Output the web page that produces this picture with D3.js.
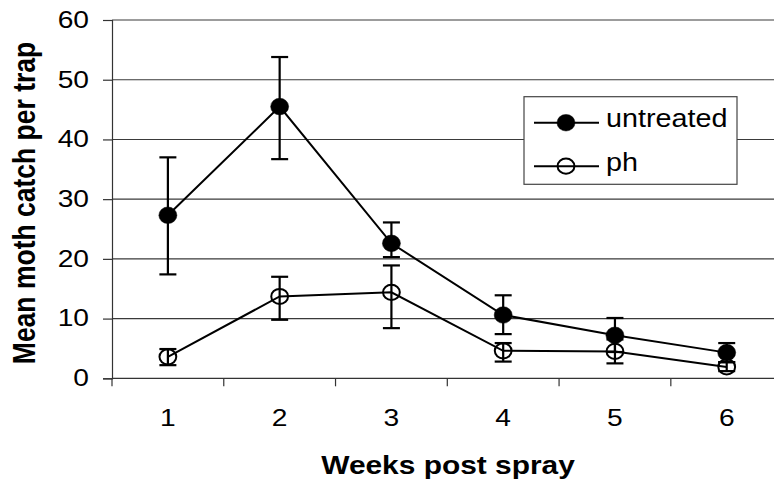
<!DOCTYPE html>
<html>
<head>
<meta charset="utf-8">
<script src="https://cdn.jsdelivr.net/npm/d3@7"></script>
<style>
  body { margin: 0; background: #fff; }
  svg { display: block; font-family: Arial, "Liberation Sans", sans-serif; }
</style>
</head>
<body>
<div id="chart"></div>
<script>
const width = 774;
const height = 483;

// the picture is a bit stretched sideways, so text gets the same squeeze
const sx = 1.15;

// Data
const weeks = [1, 2, 3, 4, 5, 6];
const untreated = [27.3, 45.5, 22.6, 10.6, 7.2, 4.3];
const untreatedLow = [17.4, 36.7, 20.3, 7.4, 4.4, 2.7];
const untreatedHigh = [37.0, 53.8, 26.1, 13.9, 10.1, 5.9];
const ph = [3.6, 13.7, 14.4, 4.6, 4.5, 1.9];
const phLow = [2.2, 9.8, 8.4, 2.8, 2.5, 1.2];
const phHigh = [4.9, 17.0, 18.9, 5.9, 6.5, 2.7];
const yTicks = [0, 10, 20, 30, 40, 50, 60];
const seriesNames = ['untreated', 'ph'];

const series = [
    { name: seriesNames[0], filled: true, values: untreated, low: untreatedLow, high: untreatedHigh },
    { name: seriesNames[1], filled: false, values: ph, low: phLow, high: phHigh }
];

// Scales
const x = d3.scaleBand()
    .domain(weeks)
    .range([112, 782.6])
    .padding(0);

const y = d3.scaleLinear()
    .domain([0, 60])
    .range([378.3, 20]);

const svg = d3.select('#chart')
    .append('svg')
    .attr('width', width)
    .attr('height', height);

// Gridlines
svg.append('g')
    .selectAll('line')
    .data(yTicks.filter(d => d > 0))
    .enter().append('line')
    .attr('x1', 112)
    .attr('x2', width)
    .attr('y1', d => y(d))
    .attr('y2', d => y(d))
    .attr('stroke', '#3a3a3a')
    .attr('stroke-width', 1.1);

// Y axis
const yAxis = svg.append('g')
    .attr('transform', 'translate(112,0)')
    .call(d3.axisLeft(y).tickValues(yTicks).tickSize(9).tickPadding(14));
yAxis.select('.domain').attr('stroke', '#333').attr('stroke-width', 1.2);
yAxis.selectAll('.tick line').attr('stroke', '#333').attr('stroke-width', 1.2);
yAxis.selectAll('.tick text')
    .attr('x', null).attr('dy', null)
    .attr('font-size', 24.5)
    .attr('fill', '#000')
    .attr('text-anchor', 'end')
    .attr('dominant-baseline', 'central')
    .attr('transform', `translate(-23,-1) scale(${sx},1)`);

// X axis: ticks sit between the categories
const xAxis = svg.append('g')
    .attr('transform', `translate(0,${y(0)})`);
xAxis.append('line')
    .attr('x1', 112).attr('x2', width)
    .attr('stroke', '#333').attr('stroke-width', 1.2);
xAxis.selectAll('.xtick')
    .data(weeks)
    .enter().append('line')
    .attr('class', 'xtick')
    .attr('x1', d => x(d))
    .attr('x2', d => x(d))
    .attr('y1', 0).attr('y2', 8)
    .attr('stroke', '#333').attr('stroke-width', 1.2);
xAxis.selectAll('.xlabel')
    .data(weeks)
    .enter().append('text')
    .attr('class', 'xlabel')
    .attr('transform', d => `translate(${x(d) + x.bandwidth() / 2},48) scale(${sx},1)`)
    .attr('text-anchor', 'middle')
    .attr('font-size', 24.5)
    .text(d => d);

// Axis titles
svg.append('text')
    .attr('transform', `translate(448,474) scale(${sx},1)`)
    .attr('text-anchor', 'middle')
    .attr('font-size', 26)
    .attr('font-weight', 'bold')
    .text('Weeks post spray');

svg.append('text')
    .attr('transform', `translate(35,203) scale(${sx},1) rotate(-90)`)
    .attr('text-anchor', 'middle')
    .attr('font-size', 26.5)
    .attr('font-weight', 'bold')
    .text('Mean moth catch per trap');

const cx = d => x(d) + x.bandwidth() / 2;
const capHalf = 8.5;

// Error bars
series.forEach(s => {
    const g = svg.append('g').attr('stroke', '#000').attr('stroke-width', 2.2);
    weeks.forEach((w, i) => {
        g.append('line')
            .attr('x1', cx(w)).attr('x2', cx(w))
            .attr('y1', y(s.low[i])).attr('y2', y(s.high[i]));
        [s.low[i], s.high[i]].forEach(v => {
            g.append('line')
                .attr('x1', cx(w) - capHalf).attr('x2', cx(w) + capHalf)
                .attr('y1', y(v)).attr('y2', y(v));
        });
    });
});

// Lines
const line = d3.line()
    .x((d, i) => cx(weeks[i]))
    .y(d => y(d));

series.forEach(s => {
    svg.append('path')
        .datum(s.values)
        .attr('d', line)
        .attr('fill', 'none')
        .attr('stroke', '#000')
        .attr('stroke-width', 2);
});

// Markers
function marker(sel, filled) {
    sel.attr('rx', filled ? 9 : 8.4)
        .attr('ry', filled ? 8.3 : 7.6)
        .attr('fill', filled ? '#000' : 'none')
        .attr('stroke', '#000')
        .attr('stroke-width', filled ? 0.5 : 2);
}

series.forEach(s => {
    svg.append('g')
        .selectAll('ellipse')
        .data(s.values)
        .enter().append('ellipse')
        .attr('cx', (d, i) => cx(weeks[i]))
        .attr('cy', d => y(d))
        .call(marker, s.filled);
});

// Legend
const legend = svg.append('g');
legend.append('rect')
    .attr('x', 524).attr('y', 96.7)
    .attr('width', 213).attr('height', 87.6)
    .attr('fill', '#fff')
    .attr('stroke', '#444')
    .attr('stroke-width', 1.2);

const items = legend.selectAll('.item')
    .data(series)
    .enter().append('g')
    .attr('class', 'item')
    .attr('transform', (d, i) => `translate(0,${122.7 + i * 43.5})`);

items.append('line')
    .attr('x1', 534).attr('x2', 599)
    .attr('stroke', '#000').attr('stroke-width', 2);

items.append('ellipse')
    .attr('cx', 566).attr('cy', 0)
    .each(function(d) { d3.select(this).call(marker, d.filled); });

items.append('text')
    .attr('transform', `translate(606,4.5) scale(${sx},1)`)
    .attr('font-size', 25)
    .text(d => d.name);
</script>
</body>
</html>
